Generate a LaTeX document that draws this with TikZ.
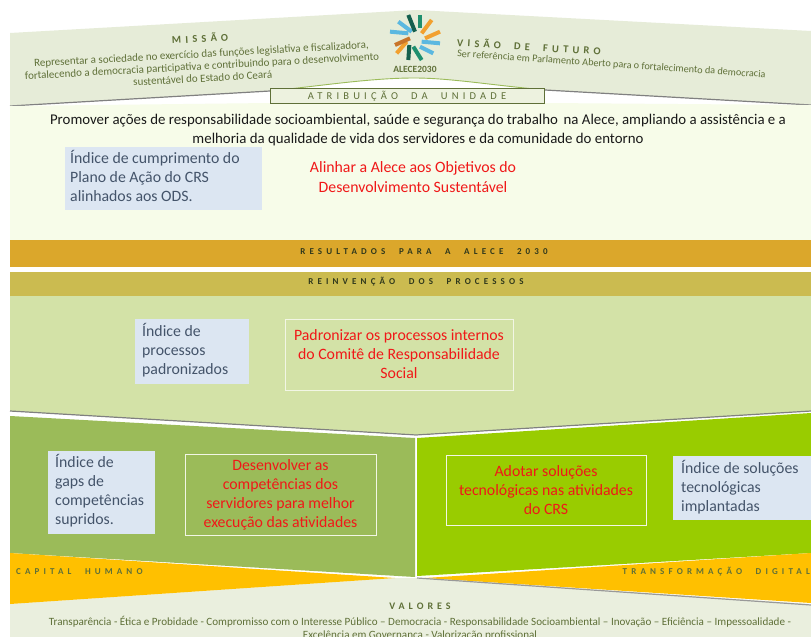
\documentclass[tikz,border=0pt]{standalone}
\usepackage{fontspec}
\setmainfont{Carlito}
\newfontfamily\spfont[LetterSpace=40,WordSpace=2]{Carlito}
\newfontfamily\spsmfont[LetterSpace=46,WordSpace=2.2]{Carlito}
\definecolor{hdr}{HTML}{E6ECD8}
\definecolor{pale}{HTML}{F7FCE9}
\definecolor{gold}{HTML}{DBA72B}
\definecolor{olive}{HTML}{CBBB50}
\definecolor{lgreen}{HTML}{D3E2A7}
\definecolor{mgreen}{HTML}{9BBB59}
\definecolor{vgreen}{HTML}{99CC00}
\definecolor{amber}{HTML}{FFC000}
\definecolor{bluebox}{HTML}{DCE6F2}
\definecolor{bottom}{HTML}{EAEFDE}
\definecolor{dtext}{HTML}{5F7038}
\definecolor{btext}{HTML}{44546A}
\definecolor{redt}{HTML}{F01818}
\definecolor{lteal}{HTML}{1E8F6E}
\definecolor{lsky}{HTML}{5BB8E0}
\definecolor{lorange}{HTML}{F2A02E}
\definecolor{ldark}{HTML}{14604E}
\definecolor{lbrown}{HTML}{C8752A}
\tikzset{
 indicator/.style={text=btext,align=left,anchor=north west,font=\fontsize{15.8}{19}\selectfont,inner sep=0pt},
 goalbox/.style={draw=white!70!lgreen,line width=0.8pt,text=redt,align=center,font=\fontsize{15.8}{19}\selectfont,inner sep=0pt},
 spaced/.style={text=dtext,inner sep=0pt,font=\spfont\fontsize{10.5}{12}\selectfont},
 spacedsm/.style={inner sep=0pt,font=\spsmfont\fontsize{9}{10}\selectfont},
 small/.style={text=dtext,align=center,inner sep=0pt,font=\fontsize{11}{12.2}\selectfont},
 ray/.style={line width=4pt},
}
\begin{document}
\begin{tikzpicture}[x=1pt,y=-1pt]
\clip (0,0) rectangle (811,637);
\fill[white] (0,0) rectangle (811,637);
% header
\fill[hdr] (10,33) -- (416,10) -- (811,31) -- (811,105) -- (545,90) .. controls (490,85) and (450,78) .. (414,78) .. controls (370,78) and (320,86) .. (270,91) -- (10,106) -- cycle;
\draw[line width=1.2pt,black!50] (10,106) -- (270,91);
\draw[line width=1.2pt,black!50] (545,90) -- (811,105);
\draw[line width=0.9pt,mgreen] (270,91) .. controls (320,86) and (370,78) .. (414,78) .. controls (450,78) and (490,85) .. (545,90);
% pale panel
\fill[pale] (10,106) -- (270,103) -- (545,103) -- (811,105) -- (811,240) -- (10,240) -- cycle;
% attribution box
\node[draw=dtext,line width=1pt,fill=hdr!60!pale,minimum width=274pt,minimum height=15pt,spaced] (attr) at (407,96) {ATRIBUIÇÃO DA UNIDADE};
% bars
\fill[gold] (10,240) rectangle (811,267);
\fill[olive] (10,272) rectangle (811,296);
\fill[lgreen] (10,296) -- (811,296) -- (811,411) -- (416,435) -- (10,411) -- cycle;
\draw[line width=1.2pt,black!50] (10,411) -- (416,435) -- (811,411);
\draw[line width=1pt,white] (10,413) -- (416,436.5) -- (811,413);
% lower panels
\fill[mgreen] (10,416) -- (415,438) -- (415,577) -- (10,553) -- cycle;
\fill[vgreen] (417,438) -- (811,413) -- (811,553) -- (417,576) -- cycle;
% bottom band
\fill[bottom] (10,604) -- (395,578) -- (425,578) -- (811,604) -- (811,637) -- (10,637) -- cycle;
\fill[amber] (10,553) -- (395,578) -- (10,604) -- cycle;
\fill[amber] (811,553) -- (425,578) -- (811,603) -- cycle;
\draw[line width=1.2pt,black!40] (417,578) -- (811,605);
% logo
\begin{scope}[shift={(370,5)},x=0.3333pt,y=-0.3333pt]
 \draw[ray,lsky] (60,80) -- (115,85);
 \draw[ray,lsky] (85,50) -- (125,80);
 \draw[ray,lorange] (185,45) -- (155,85);
 \draw[ray,lorange] (210,80) -- (165,100);
 \draw[ray,lsky] (210,115) -- (155,110);
 \draw[ray,lsky] (190,145) -- (150,125);
 \draw[ray,lorange] (80,145) -- (110,110);
 \draw[ray,lbrown] (75,120) -- (120,100);
 \draw[ray,ldark] (115,30) -- (135,80);
 \draw[ray,lteal] (150,30) -- (150,70);
 \draw[ray,lteal] (155,165) -- (130,125);
 \draw[ray,ldark] (115,165) -- (118,120);
\end{scope}
\node[font=\fontsize{9.5}{10}\selectfont\bfseries,text=dtext,inner sep=0pt] (logo) at (415,69.5) {ALECE2030};
% mission
\node[spaced,rotate=3.2] (mt) at (200,38) {\bfseries MISSÃO};
\node[small,rotate=3.2] (mission) at (202,66) {Representar a sociedade no exercício das funções legislativa e fiscalizadora,\\fortalecendo a democracia participativa e contribuindo para o desenvolvimento\\sustentável do Estado do Ceará};
% vision
\node[spaced,rotate=-3.5,anchor=west] (vt) at (457,42) {\bfseries VISÃO DE FUTURO};
\node[small,rotate=-3.9,anchor=west,font=\fontsize{10.2}{12}\selectfont] (vision) at (457,54) {Ser referência em Parlamento Aberto para o fortalecimento da democracia};
% statement
\node[align=center,text=black!90,font=\fontsize{14.85}{18.5}\selectfont,inner sep=0pt] (promo) at (418,130) {Promover ações de responsabilidade socioambiental, saúde e segurança do trabalho\, na Alece, ampliando a assistência e a\\melhoria da qualidade de vida dos servidores e da comunidade do entorno};
% result indicators
\fill[bluebox] (65,147) rectangle (262,210);
\node[indicator] (i1) at (70,150) {Índice de cumprimento do\\Plano de Ação do CRS\\alinhados aos ODS.};
\node[text=redt,align=center,font=\fontsize{15.8}{20}\selectfont,inner sep=0pt] (g1) at (413,177) {Alinhar a Alece aos Objetivos do\\Desenvolvimento Sustentável};
\node[spacedsm,text=black!50!dtext] (res) at (424,252) {\bfseries RESULTADOS PARA A ALECE 2030};
\node[spacedsm,text=black!50!dtext] (rei) at (416,282) {\bfseries REINVENÇÃO DOS PROCESSOS};
% processes
\fill[bluebox] (135,319) rectangle (249,384);
\node[indicator] (i2) at (142,323) {Índice de\\processos\\padronizados};
\node[goalbox,minimum width=228pt,minimum height=71pt] (g2) at (399,354.5) {Padronizar os processos internos\\do Comitê de Responsabilidade\\Social};
% people
\fill[bluebox] (48,451) rectangle (155,534);
\node[indicator] (i3) at (55,454) {Índice de\\gaps de\\competências\\supridos.};
\node[goalbox,minimum width=191pt,minimum height=81pt] (g3) at (280.5,494.5) {Desenvolver as\\competências dos\\servidores para melhor\\execução das atividades};
% technology
\node[goalbox,minimum width=200pt,minimum height=70pt] (g4) at (546,490) {Adotar soluções\\tecnológicas nas atividades\\do CRS};
\fill[bluebox] (673,456) rectangle (811,520);
\node[indicator] (i4) at (681,460) {Índice de soluções\\tecnológicas\\implantadas};
% orange labels
\node[spacedsm,text=dtext,anchor=west] (cap) at (16,572) {\bfseries CAPITAL HUMANO};
\node[spacedsm,text=dtext,anchor=east] (tra) at (810,572) {\bfseries TRANSFORMAÇÃO DIGITAL};
% values
\node[spaced,font=\spfont\fontsize{10}{11}\selectfont] (val) at (420,606.5) {\bfseries VALORES};
\node[small,anchor=north,font=\fontsize{11.1}{13}\selectfont] (vals) at (420,616) {Transparência - Ética e Probidade - Compromisso com o Interesse Público – Democracia - Responsabilidade Socioambiental – Inovação – Eficiência – Impessoalidade -\\Excelência em Governança - Valorização profissional};
\end{tikzpicture}
\end{document}
